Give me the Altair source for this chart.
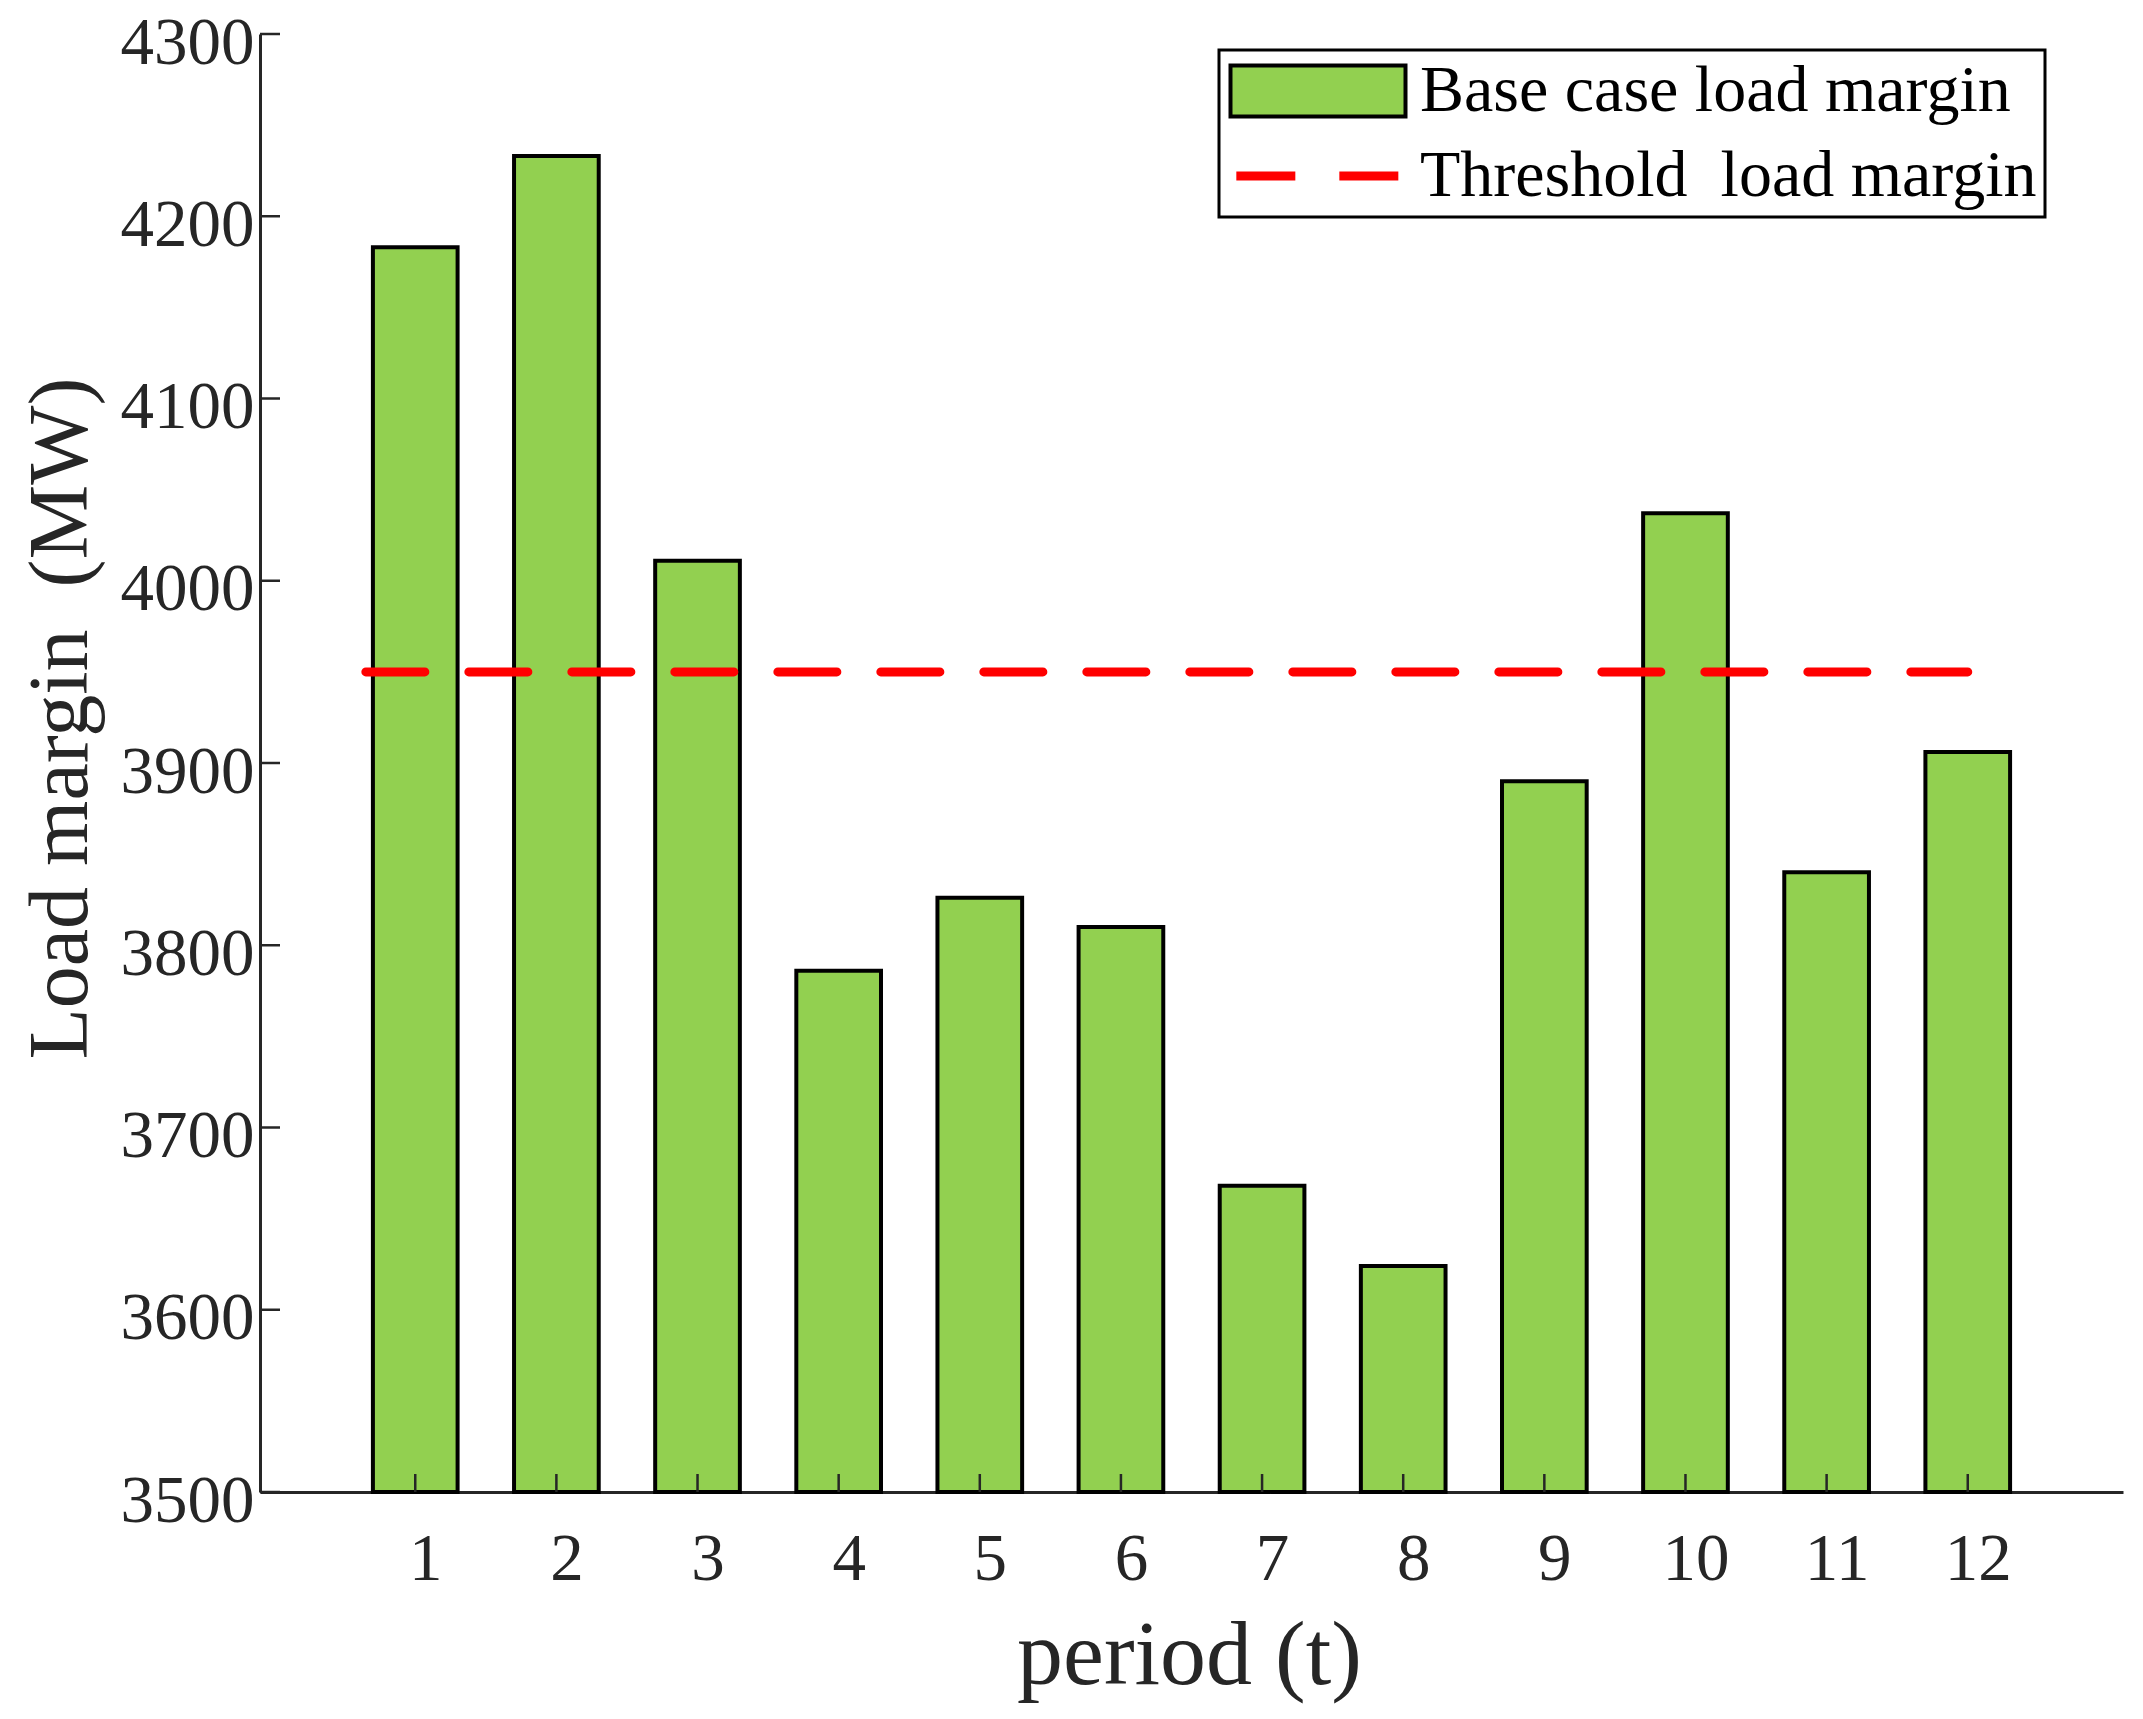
import altair as alt
import pandas as pd

# ---- data ----
periods = [1, 2, 3, 4, 5, 6, 7, 8, 9, 10, 11, 12]
base_margin = [4183, 4233, 4011, 3786, 3826, 3810, 3668, 3624, 3890, 4037, 3840, 3906]
threshold_value = 3950
threshold_span = [0.65, 12.0]
y_ticks = [3500, 3600, 3700, 3800, 3900, 4000, 4100, 4200, 4300]
x_ticks = periods
bar_label = "Base case load margin"
line_label = "Threshold\u00a0 load margin"
x_title = "period (t)"
y_title = "Load margin\u00a0 (MW)"

# ---- styling ----
W, H = 1863, 1458
FONT = "Liberation Serif"
AX = "#262626"
GREEN = "#92D050"
RED = "#FF0000"
series_domain = [bar_label, line_label]

bars_df = pd.DataFrame({"t": periods, "margin": base_margin, "series": bar_label})
line_df = pd.DataFrame({"t": threshold_span,
                        "margin": [threshold_value] * len(threshold_span),
                        "series": line_label})
ytick_df = pd.DataFrame({"v": y_ticks})
xtick_df = pd.DataFrame({"t": x_ticks})

xscale = alt.Scale(domain=[-0.1, 13.1], nice=False, zero=False)
yscale = alt.Scale(domain=[y_ticks[0], y_ticks[-1]], nice=False, zero=False)
fill_scale = alt.Scale(domain=series_domain, range=[GREEN, "transparent"])
stroke_scale = alt.Scale(domain=series_domain, range=["black", RED])
sw_scale = alt.Scale(type="point", padding=0, domain=series_domain, range=[4, 9])
dash_scale = alt.Scale(domain=series_domain, range=[[1, 0], [59, 44]])
shape_scale = alt.Scale(domain=series_domain,
                        range=["M-3,-0.87H3V0.87H-3Z", "M-2.8,0H2.8"])

xaxis = alt.Axis(
    values=x_ticks,
    format="d",
    title=x_title,
    ticks=False,
    tickSize=0,
    grid=False,
    labelPadding=34,
    labelOffset=10,
    labelFlush=False,
    labelOverlap=False,
    titleX=929,
    titleY=191,
    titleBaseline="alphabetic",
    titleAlign="center",
    titleFontSize=92,
)
yaxis = alt.Axis(
    values=y_ticks,
    format="d",
    title=y_title,
    ticks=False,
    tickSize=0,
    grid=False,
    labelPadding=6,
    labelOffset=9,
    labelFlush=False,
    labelOverlap=False,
    titleAngle=270,
    titleX=-199,
    titleY=684,
    titleBaseline="middle",
    titleAlign="center",
    titleFontSize=84,
)

legend = alt.Legend(
    title=None,
    orient="none",
    legendX=959,
    legendY=16,
    symbolSize=3403,
    symbolOpacity=1,
    symbolOffset=57,
    labelFont=FONT,
    labelFontSize=66,
    labelColor="black",
    labelOffset=68,
    labelLimit=0,
    padding=8,
    rowPadding=17,
    strokeColor="black",
    fillColor="white",
)

bars = (
    alt.Chart(bars_df)
    .transform_calculate(x0="datum.t - 0.3", x1="datum.t + 0.3")
    .mark_bar(opacity=1)
    .encode(
        x=alt.X("x0:Q", scale=xscale, axis=xaxis),
        x2="x1:Q",
        y=alt.Y("margin:Q", scale=yscale, axis=yaxis),
        y2=alt.datum(y_ticks[0]),
        fill=alt.Fill("series:N", scale=fill_scale, legend=legend),
        stroke=alt.Stroke("series:N", scale=stroke_scale, legend=legend),
        strokeWidth=alt.StrokeWidth("series:N", scale=sw_scale, legend=legend),
        strokeDash=alt.StrokeDash("series:N", scale=dash_scale, legend=legend),
    )
)

threshold = (
    alt.Chart(line_df)
    .mark_line(strokeCap="round")
    .encode(
        x=alt.X("t:Q", scale=xscale, axis=xaxis),
        y=alt.Y("margin:Q", scale=yscale, axis=yaxis),
        stroke=alt.Stroke("series:N", scale=stroke_scale, legend=legend),
        strokeWidth=alt.StrokeWidth("series:N", scale=sw_scale, legend=legend),
        strokeDash=alt.StrokeDash("series:N", scale=dash_scale, legend=legend),
    )
)

shape_layer = (
    alt.Chart(line_df)
    .transform_filter("false")
    .mark_point(opacity=0)
    .encode(
        x=alt.X("t:Q", scale=xscale, axis=xaxis),
        y=alt.Y("margin:Q", scale=yscale, axis=yaxis),
        shape=alt.Shape("series:N", scale=shape_scale, legend=legend),
    )
)

yticks = (
    alt.Chart(ytick_df)
    .mark_rule(color=AX, strokeWidth=2.5)
    .encode(
        y=alt.Y("v:Q", scale=yscale, axis=yaxis),
        x=alt.value(0),
        x2=alt.value(20),
    )
)

xticks = (
    alt.Chart(xtick_df)
    .mark_rule(color=AX, strokeWidth=2.5)
    .encode(
        x=alt.X("t:Q", scale=xscale, axis=xaxis),
        y=alt.value(H),
        y2=alt.value(H - 18),
    )
)

chart = (
    alt.layer(bars, threshold, shape_layer, yticks, xticks)
    .properties(
        width=W,
        height=H,
        autosize=alt.AutoSizeParams(type="none"),
        padding={"left": 260, "top": 34, "right": 20, "bottom": 227},
        background="white",
    )
    .configure_view(stroke=None)
    .configure_legend(strokeWidth=3)
    .configure_axis(
        domainColor=AX,
        domainWidth=3,
        labelFont=FONT,
        labelFontSize=67,
        labelColor=AX,
        titleFont=FONT,
        titleFontWeight="normal",
        titleColor=AX,
    )
)

chart.save("out.html", embed_options={"renderer": "svg", "actions": False})
